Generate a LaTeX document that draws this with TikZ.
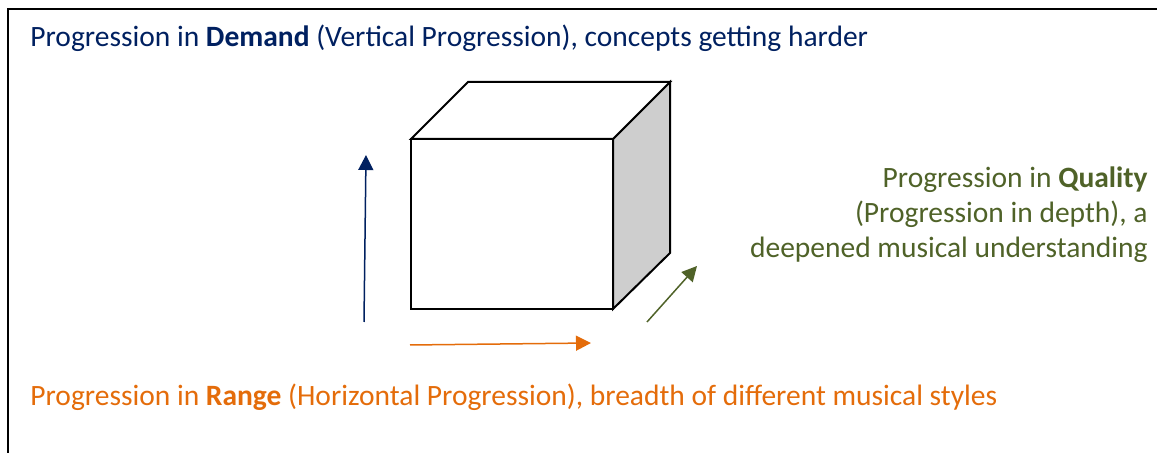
\documentclass[tikz,border=0pt]{standalone}
\usepackage{fontspec}
\setmainfont{Carlito}
\usetikzlibrary{arrows.meta, positioning}

\definecolor{demandblue}{HTML}{002060}
\definecolor{rangeorange}{HTML}{E46C0A}
\definecolor{qualitygreen}{HTML}{4F6228}
\definecolor{sidegray}{HTML}{CECECE}

\begin{document}
\begin{tikzpicture}[x=0.5pt, y=-0.5pt,
    label text/.style={inner sep=0pt, font=\fontsize{14.75}{17.5}\selectfont},
    cube edge/.style={line width=1pt, line join=miter},
    prog arrow/.style={line width=0.75pt, -{Triangle[length=7.5pt, width=7.5pt]}}]

      \useasboundingbox (0,0) rectangle (1157,453);

      % Rahmen (nur oben und links sichtbar)
      \draw[line width=1pt] (8,453) -- (8,9) -- (1157,9);

      % Texte
      \node[label text, anchor=base west, text=demandblue] (demand) at (30,47)
        {Progression in \textbf{Demand} (Vertical Progression), concepts getting harder};
      \node[label text, anchor=base west, text=rangeorange] (range) at (30,406)
        {Progression in \textbf{Range} (Horizontal Progression), breadth of different musical styles};
      % base east = Grundlinie der letzten Zeile
      \node[label text, anchor=base east, align=right, text=qualitygreen] (quality) at (1148,258)
        {Progression in \textbf{Quality}\\(Progression in depth), a\\deepened musical understanding};

      % Wuerfel
      \coordinate (fsw) at (411,309);
      \coordinate (fse) at (613,309);
      \coordinate (fne) at (613,139);
      \coordinate (fnw) at (411,139);
      \coordinate (bnw) at (468,82);
      \coordinate (bne) at (670,82);
      \coordinate (bse) at (670,253);
      \draw[cube edge, fill=sidegray] (fse) -- (fne) -- (bne) -- (bse) -- cycle;
      \draw[cube edge, fill=white] (fnw) -- (bnw) -- (bne) -- (fne) -- cycle;
      \draw[cube edge, fill=white] (fsw) rectangle (fne);

      % Pfeile
      \coordinate (up0) at (364,322);
      \coordinate (up1) at (366,155);
      \coordinate (right0) at (410,345);
      \coordinate (right1) at (591,343);
      \coordinate (depth0) at (647,322);
      \coordinate (depth1) at (697,266);
      \draw[prog arrow, demandblue] (up0) -- (up1);
      \draw[prog arrow, rangeorange] (right0) -- (right1);
      \draw[prog arrow, qualitygreen] (depth0) -- (depth1);

\end{tikzpicture}
\end{document}
